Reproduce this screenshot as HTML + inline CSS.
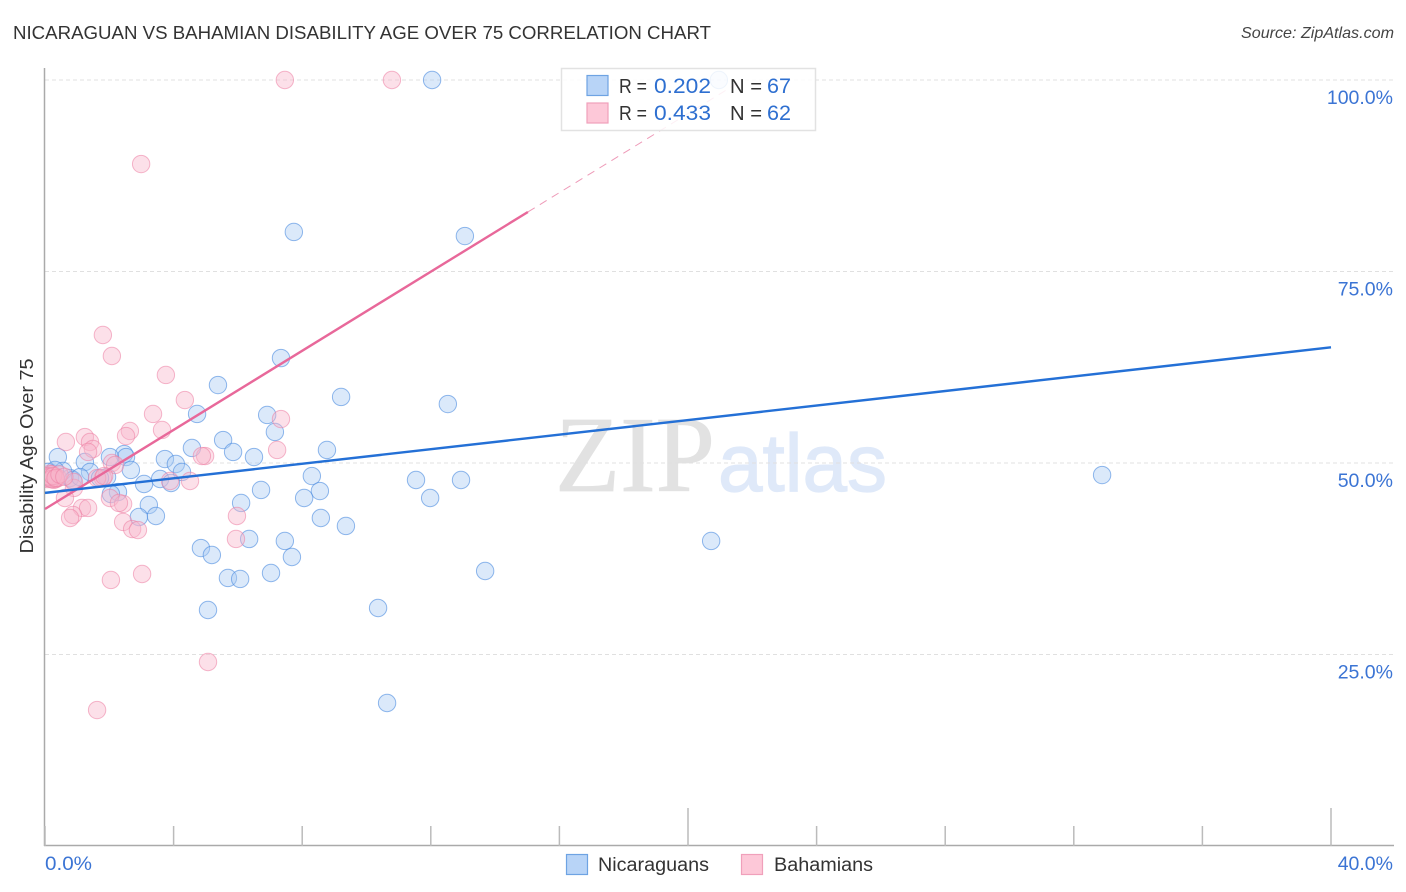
<!DOCTYPE html>
<html>
<head>
<meta charset="utf-8">
<title>Nicaraguan vs Bahamian Disability Age Over 75 Correlation Chart</title>
<style>
html,body{margin:0;padding:0;background:#fff;}
svg{display:block;font-family:"Liberation Sans",sans-serif;}
</style>
</head>
<body>
<svg id="chart" xmlns="http://www.w3.org/2000/svg" width="1406" height="892" viewBox="0 0 1406 892">
  <rect x="0" y="0" width="1406" height="892" fill="#fff"/>
  <text x="13" y="39" font-size="18" fill="#333" textLength="698" lengthAdjust="spacingAndGlyphs">NICARAGUAN VS BAHAMIAN DISABILITY AGE OVER 75 CORRELATION CHART</text>
  <text x="1394" y="38" font-size="16" font-style="italic" fill="#444" text-anchor="end" textLength="153" lengthAdjust="spacingAndGlyphs">Source: ZipAtlas.com</text>
  <text x="555" y="491" font-family="'Liberation Serif',serif" font-size="108" fill="#e2e2e2" stroke="#e2e2e2" stroke-width="0.8" textLength="160" lengthAdjust="spacingAndGlyphs">ZIP</text>
  <text x="718" y="491" font-size="82" fill="#dfe9f9" stroke="#dfe9f9" stroke-width="1.2" textLength="169" lengthAdjust="spacingAndGlyphs">atlas</text>
  <g id="grid"></g>
  <g id="axes"></g>
  <defs><clipPath id="plot-clip"><rect x="45" y="60" width="1350" height="786"/></clipPath></defs>
  <g id="points-blue" clip-path="url(#plot-clip)"></g>
  <g id="points-pink" clip-path="url(#plot-clip)"></g>
  <g id="trends"></g>
  <text transform="translate(33,456) rotate(-90)" font-size="18" fill="#333" text-anchor="middle" textLength="195" lengthAdjust="spacingAndGlyphs">Disability Age Over 75</text>

  <g>
    <rect x="561.5" y="68.5" width="254" height="62" fill="#fff" fill-opacity="0.85" stroke="#e2e2e2" stroke-width="1.5"/>
    <rect x="587" y="75.5" width="21" height="20" fill="#b8d4f7" stroke="#6ea3e3" stroke-width="1.2"/>
    <text x="619" y="93" font-size="20" fill="#333" textLength="28" lengthAdjust="spacingAndGlyphs">R =</text>
    <text x="654" y="93" font-size="21" fill="#2e6fd0" textLength="57" lengthAdjust="spacingAndGlyphs">0.202</text>
    <text x="730" y="93" font-size="20" fill="#333" textLength="32" lengthAdjust="spacingAndGlyphs">N =</text>
    <text x="767" y="93" font-size="21" fill="#2e6fd0" textLength="24" lengthAdjust="spacingAndGlyphs">67</text>
    <rect x="587" y="103" width="21" height="20" fill="#fdc8d8" stroke="#f0a0bb" stroke-width="1.2"/>
    <text x="619" y="120" font-size="20" fill="#333" textLength="28" lengthAdjust="spacingAndGlyphs">R =</text>
    <text x="654" y="120" font-size="21" fill="#2e6fd0" textLength="57" lengthAdjust="spacingAndGlyphs">0.433</text>
    <text x="730" y="120" font-size="20" fill="#333" textLength="32" lengthAdjust="spacingAndGlyphs">N =</text>
    <text x="767" y="120" font-size="21" fill="#2e6fd0" textLength="24" lengthAdjust="spacingAndGlyphs">62</text>
  </g>

  <g>
    <rect x="566.5" y="854.5" width="21" height="20" fill="#b8d4f7" stroke="#6ea3e3" stroke-width="1.2"/>
    <text x="598" y="871" font-size="19" fill="#333" textLength="111" lengthAdjust="spacingAndGlyphs">Nicaraguans</text>
    <rect x="741.5" y="854.5" width="21" height="20" fill="#fdc8d8" stroke="#f0a0bb" stroke-width="1.2"/>
    <text x="774" y="871" font-size="19" fill="#333" textLength="99" lengthAdjust="spacingAndGlyphs">Bahamians</text>
  </g>
</svg>
<script>
const xTickValues = [0,4,8,12,16,20,24,28,32,36,40];
const xMajorTicks = [20,40];
const xTickLabels = ["0.0%","40.0%"];
const yTickValues = [100,75,50,25];
const yTickLabels = ["100.0%","75.0%","50.0%","25.0%"];

const nicaraguanX = [12.04,20.96,7.74,13.06,7.34,5.38,9.21,12.53,4.73,6.91,7.15,5.54,4.57,5.85,8.77,6.5,3.73,4.07,2.46,2.52,2.02,1.24,0.4,2.67,4.26,3.58,3.92,3.08,8.3,11.54,12.94,32.88,6.72,8.55,8.06,11.98,6.1,3.23,3.45,2.92,8.58,9.36,6.35,7.46,4.85,5.19,7.68,7.03,5.69,6.07,13.69,5.07,10.36,20.72,10.64,2.27,2.05,1.4,1.93,1.71,0.78,0.56,0.31,0.16,0.09,0.87,1.09];
const nicaraguanY = [100,100,80.16,79.63,63.7,60.18,58.62,57.7,56.4,56.27,54.05,53,51.96,51.44,51.7,50.78,50.52,49.87,51.17,50.78,50.78,50.13,50.78,49.09,48.83,47.91,47.39,47.26,48.3,47.78,47.78,48.43,46.48,46.34,45.43,45.43,44.78,44.52,43.08,42.95,42.82,41.78,40.08,39.82,38.9,37.99,37.73,35.64,34.99,34.86,35.9,30.81,31.07,39.82,18.67,46.21,45.95,48.83,48.17,48.04,48.04,48.96,49.09,48.04,48.83,47.78,48.17];

const bahamianX = [7.46,10.79,2.99,1.8,2.08,3.76,4.35,3.36,3.64,2.64,2.52,7.34,7.22,4.98,4.88,0.65,1.24,1.4,1.49,1.34,2.08,2.18,1.8,4.51,3.89,0.9,0.62,2.02,1.15,1.34,0.87,0.78,2.43,2.3,2.43,2.71,2.89,5.97,5.94,2.05,3.02,5.07,1.62,0.16,0.22,0.3,0.09,0.2,0.27,0.33,0.4,0.9,1.62,1.84,0.02,0.06,0.14,0.2,0.25,0.33,0.45,0.6];
const bahamianY = [100,100,89.03,66.71,63.97,61.49,58.22,56.4,54.31,54.18,53.52,55.74,51.7,50.91,50.91,52.74,53.39,52.74,51.83,51.44,50,49.74,48.04,47.65,47.65,46.74,45.43,45.43,44.13,44.13,43.21,42.82,44.65,44.78,42.3,41.38,41.25,43.08,40.08,34.73,35.51,24.02,17.75,48.6,48.04,48.3,47.9,48.5,47.8,47.9,48.04,47.52,48.04,48.3,48.04,48.3,48.2,47.9,48.3,48.04,48.5,48.2];

const nicaraguanTrendX = [0,40];
const nicaraguanTrendY = [46.1,65.1];
const bahamianTrendX = [0,15.02];
const bahamianTrendY = [44,82.77];
const bahamianTrendDashX = [15.02,21.7];
const bahamianTrendDashY = [82.77,100];

const NS = 'http://www.w3.org/2000/svg';
function xScale(v){ return 45 + v * 32.15; }
function yScale(v){ return 846 - v * 7.66; }
function make(tag, attrs, parent){
  const el = document.createElementNS(NS, tag);
  for (const k in attrs) el.setAttribute(k, attrs[k]);
  parent.appendChild(el);
  return el;
}
const grid = document.getElementById('grid');
const axes = document.getElementById('axes');
const trends = document.getElementById('trends');

yTickValues.forEach(function(v, i){
  const line = make('line', {x1:45, x2:1393, y1:yScale(v), y2:yScale(v), stroke:'#e0e0e0', 'stroke-width':1, 'stroke-dasharray':'4 3'}, grid);
  
  
  const label = make('text', {x:1393, y:yScale(v)+24, 'font-size':19.5, fill:'#3b74d4', 'text-anchor':'end'}, axes);
  label.textContent = yTickLabels[i];
  
  
});

const yAxis = make('line', {x1:44.5, x2:44.5, y1:68, y2:846, stroke:'#aaa', 'stroke-width':1.5}, axes);


const xAxis = make('line', {x1:44, x2:1394, y1:845.5, y2:845.5, stroke:'#aaa', 'stroke-width':1.5}, axes);



xTickValues.forEach(function(v){
  const top = xMajorTicks.indexOf(v) >= 0 ? 808 : 826;
  const tick = make('line', {x1:xScale(v), x2:xScale(v), y1:top, y2:846, stroke:'#bbb', 'stroke-width':1.5}, axes);
  
  
});

const xLabelLeft = make('text', {x:45, y:870, 'font-size':19.5, fill:'#3b74d4', textLength:47, lengthAdjust:'spacingAndGlyphs'}, axes);
xLabelLeft.textContent = xTickLabels[0];


const xLabelRight = make('text', {x:1393, y:870, 'font-size':19.5, fill:'#3b74d4', 'text-anchor':'end'}, axes);
xLabelRight.textContent = xTickLabels[1];



const blueGroup = document.getElementById('points-blue');
nicaraguanX.forEach(function(v, i){
  const c = make('circle', {cx:xScale(v), cy:yScale(nicaraguanY[i]), r:8.7, fill:'#a9caf3', 'fill-opacity':0.42, stroke:'#4a8be0', 'stroke-opacity':0.6, 'stroke-width':1}, blueGroup);
  
  
});
const pinkGroup = document.getElementById('points-pink');
bahamianX.forEach(function(v, i){
  const c = make('circle', {cx:xScale(v), cy:yScale(bahamianY[i]), r:8.7, fill:'#f9b4cb', 'fill-opacity':0.42, stroke:'#ec7ea3', 'stroke-opacity':0.55, 'stroke-width':1}, pinkGroup);
  
  
});

const dash = make('line', {x1:xScale(bahamianTrendDashX[0]), y1:yScale(bahamianTrendDashY[0]), x2:xScale(bahamianTrendDashX[1]), y2:yScale(bahamianTrendDashY[1]), stroke:'#ee9ab8', 'stroke-width':1, 'stroke-dasharray':'8 6'}, trends);


const pinkLine = make('line', {x1:xScale(bahamianTrendX[0]), y1:yScale(bahamianTrendY[0]), x2:xScale(bahamianTrendX[1]), y2:yScale(bahamianTrendY[1]), stroke:'#e8689a', 'stroke-width':2.4}, trends);


const blueLine = make('line', {x1:xScale(nicaraguanTrendX[0]), y1:yScale(nicaraguanTrendY[0]), x2:xScale(nicaraguanTrendX[1]), y2:yScale(nicaraguanTrendY[1]), stroke:'#2470d6', 'stroke-width':2.4}, trends);


</script>
</body>
</html>
